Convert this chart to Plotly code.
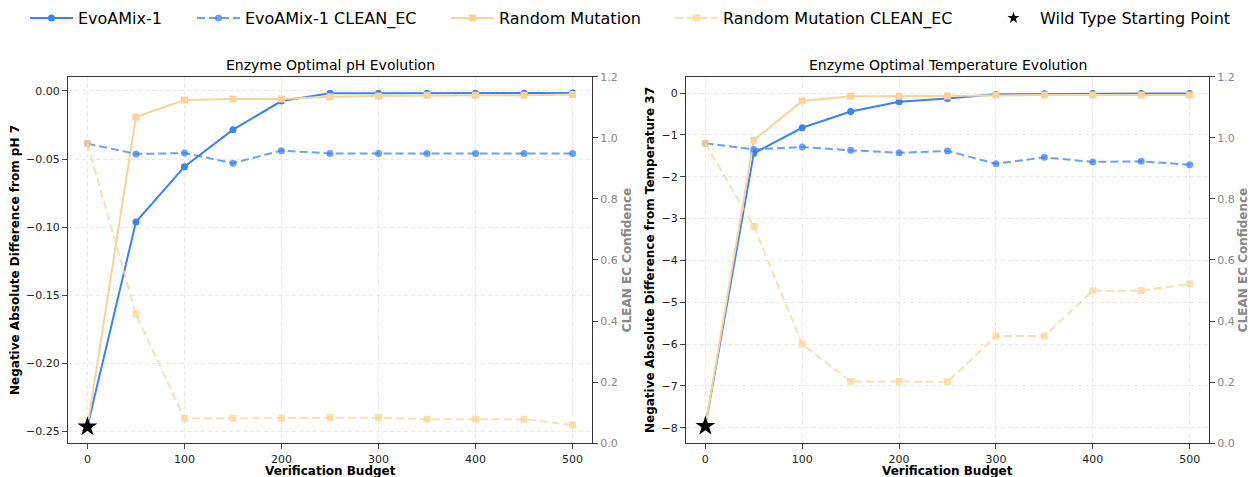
import plotly.graph_objects as go

budget = [0, 50, 100, 150, 200, 250, 300, 350, 400, 450, 500]

ph_evo = [-0.2466, -0.0963, -0.0556, -0.0284, -0.0074, -0.0017, -0.0017, -0.0017, -0.0017, -0.0017, -0.0015]
ph_rand = [-0.2466, -0.0191, -0.0066, -0.0059, -0.0059, -0.0042, -0.0037, -0.0032, -0.0032, -0.0032, -0.0025]
ph_evo_ec = [0.981, 0.947, 0.950, 0.917, 0.958, 0.949, 0.949, 0.949, 0.949, 0.949, 0.949]
ph_rand_ec = [0.981, 0.422, 0.081, 0.082, 0.082, 0.084, 0.084, 0.079, 0.079, 0.079, 0.060]

t_evo = [-7.96, -1.44, -0.83, -0.44, -0.21, -0.13, -0.03, -0.02, -0.01, -0.01, -0.01]
t_rand = [-7.96, -1.13, -0.19, -0.08, -0.08, -0.07, -0.05, -0.05, -0.05, -0.05, -0.05]
t_evo_ec = [0.982, 0.962, 0.970, 0.959, 0.951, 0.957, 0.915, 0.936, 0.921, 0.923, 0.912]
t_rand_ec = [0.982, 0.710, 0.325, 0.202, 0.202, 0.201, 0.351, 0.351, 0.499, 0.499, 0.522]

wt_ph = [-0.2466]
wt_t = [-7.96]

BLUE = "#3B82F6"
ORANGE = "#F9D49A"
BLUE_D = "rgba(59,130,246,0.75)"
ORANGE_D = "rgba(249,212,154,0.75)"
FONT = "DejaVu Sans"

fig = go.Figure()

def add_panel(xa, ya, ya2, evo, rand, evo_ec, rand_ec, wt, show):
    fig.add_trace(go.Scatter(x=budget, y=evo, mode="lines+markers", name="EvoAMix-1",
                             line=dict(color=BLUE, width=2), marker=dict(symbol="circle", size=7, color=BLUE),
                             xaxis=xa, yaxis=ya, showlegend=show, legend="legend"))
    fig.add_trace(go.Scatter(x=budget, y=rand, mode="lines+markers", name="Random Mutation",
                             line=dict(color=ORANGE, width=2), marker=dict(symbol="square", size=7, color=ORANGE),
                             xaxis=xa, yaxis=ya, showlegend=show, legend="legend3"))
    fig.add_trace(go.Scatter(x=budget, y=evo_ec, mode="lines+markers", name="EvoAMix-1 CLEAN_EC",
                             line=dict(color=BLUE_D, width=2, dash="8px,4px"),
                             marker=dict(symbol="circle", size=7, color=BLUE_D),
                             xaxis=xa, yaxis=ya2, showlegend=show, legend="legend2"))
    fig.add_trace(go.Scatter(x=budget, y=rand_ec, mode="lines+markers", name="Random Mutation CLEAN_EC",
                             line=dict(color=ORANGE_D, width=2, dash="8px,4px"),
                             marker=dict(symbol="square", size=7, color=ORANGE_D),
                             xaxis=xa, yaxis=ya2, showlegend=show, legend="legend4"))
    fig.add_trace(go.Scatter(x=[budget[0]], y=wt, mode="markers", name="Wild Type Starting Point",
                             marker=dict(symbol="star", size=15, color="black"),
                             xaxis=xa, yaxis=ya, showlegend=False))

add_panel("x", "y", "y2", ph_evo, ph_rand, ph_evo_ec, ph_rand_ec, wt_ph, True)
add_panel("x2", "y3", "y4", t_evo, t_rand, t_evo_ec, t_rand_ec, wt_t, False)

# legend-only entry for the starting point (smaller star, as in the reference legend)
fig.add_trace(go.Scatter(x=[None], y=[None], mode="markers", name="Wild Type Starting Point",
                         marker=dict(symbol="star", size=9, color="black"),
                         xaxis="x", yaxis="y", showlegend=True, legend="legend5"))

W, H = 1250, 477
ydom = [0.0707, 0.8392]
XD1 = [0.0544, 0.4736]
XD2 = [0.5488, 0.9672]
grid = dict(showgrid=True, gridcolor="rgba(200,200,200,0.4)", griddash="4px,3px", gridwidth=1)
xcommon = dict(range=[-20, 520], tickvals=[0, 100, 200, 300, 400, 500], ticks="outside", ticklen=5,
               showline=True, linecolor="#333", linewidth=1.2, mirror=True, zeroline=False, automargin=False,
               tickfont=dict(size=11, color="#222"), **grid)
ycommon = dict(ticks="outside", ticklen=5, showline=True, linecolor="#333", linewidth=1.2,
               zeroline=False, automargin=False, tickfont=dict(size=11, color="#222"), **grid)
y2common = dict(range=[0, 1.2], tickvals=[0, 0.2, 0.4, 0.6, 0.8, 1.0, 1.2],
                ticktext=["0.0", "0.2", "0.4", "0.6", "0.8", "1.0", "1.2"],
                side="right", ticks="outside", ticklen=5, showline=True, linecolor="#333", linewidth=1.2,
                showgrid=False, zeroline=False, automargin=False, tickfont=dict(size=11, color="#888"),
                title=dict(text="<b>CLEAN EC Confidence</b>", font=dict(size=12, color="#888"), standoff=5))

def leg(px):
    return dict(orientation="h", x=px / W, xanchor="left", y=1 - 18 / H, yanchor="middle",
                font=dict(size=16, color="black"), itemwidth=43, bgcolor="rgba(0,0,0,0)", borderwidth=0)

def ann(text, xc, ypx, size, bold=False):
    return dict(text=f"<b>{text}</b>" if bold else text, x=xc, y=1 - ypx / H, xref="paper", yref="paper",
                xanchor="center", yanchor="middle", showarrow=False, font=dict(size=size, color="black"))

fig.update_layout(
    width=W, height=H,
    margin=dict(l=0, r=0, t=0, b=0),
    paper_bgcolor="white", plot_bgcolor="white",
    font=dict(family=FONT, color="black"),
    xaxis=dict(domain=XD1, anchor="y", **xcommon),
    yaxis=dict(domain=ydom, anchor="x", range=[-0.2588, 0.0105],
               tickvals=[-0.25, -0.2, -0.15, -0.1, -0.05, 0.0],
               ticktext=["\u22120.25", "\u22120.20", "\u22120.15", "\u22120.10", "\u22120.05", "0.00"],
               title=dict(text="<b>Negative Absolute Difference from pH 7</b>", font=dict(size=12), standoff=3),
               **ycommon),
    yaxis2=dict(overlaying="y", anchor="x", **y2common),
    xaxis2=dict(domain=XD2, anchor="y3", **xcommon),
    yaxis3=dict(domain=ydom, anchor="x2", range=[-8.37, 0.39],
                tickvals=[-8, -7, -6, -5, -4, -3, -2, -1, 0],
                ticktext=["\u22128", "\u22127", "\u22126", "\u22125", "\u22124", "\u22123", "\u22122", "\u22121", "0"],
                title=dict(text="<b>Negative Absolute Difference from Temperature 37</b>", font=dict(size=12), standoff=4),
                **ycommon),
    yaxis4=dict(overlaying="y3", anchor="x2", **y2common),
    legend=leg(25),
    legend2=leg(192),
    legend3=leg(446),
    legend4=leg(670),
    legend5=leg(987),
    annotations=[
        ann("Enzyme Optimal pH Evolution", sum(XD1) / 2, 65, 14),
        ann("Enzyme Optimal Temperature Evolution", sum(XD2) / 2, 65, 14),
        ann("Verification Budget", sum(XD1) / 2, 471, 12, bold=True),
        ann("Verification Budget", sum(XD2) / 2, 471, 12, bold=True),
    ],
)

fig.write_html("out.html")
